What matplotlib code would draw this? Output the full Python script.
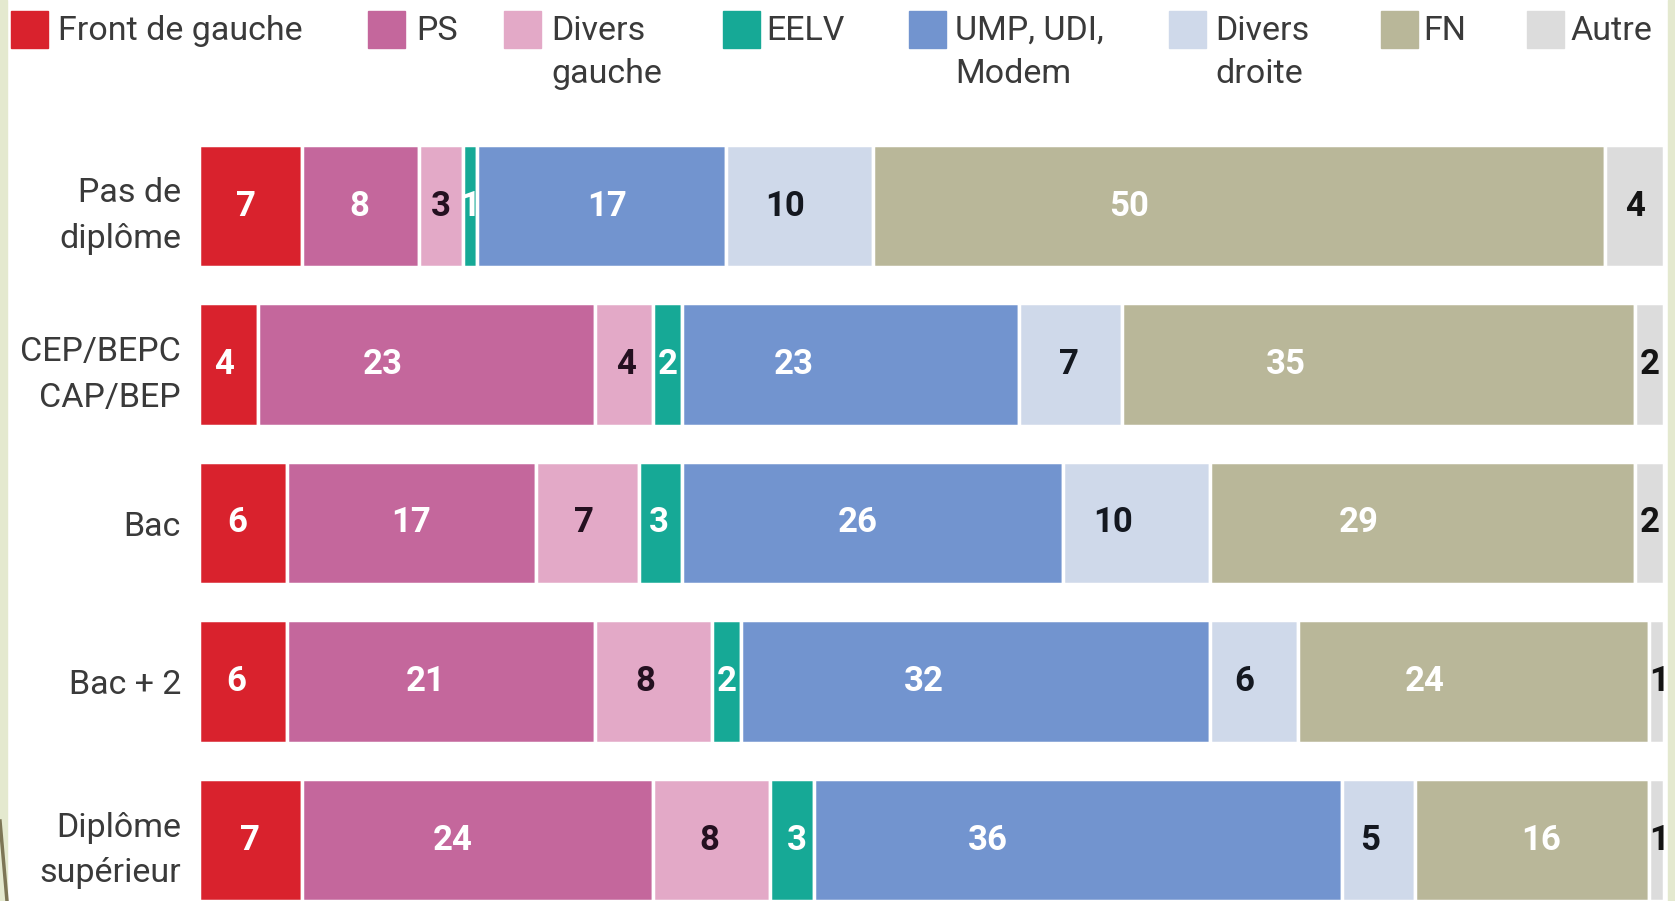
import matplotlib

matplotlib.use("Agg")
import matplotlib.pyplot as plt
from matplotlib.patches import Rectangle

# education levels (top to bottom)
categories = ["Pas de\ndiplôme", "CEP/BEPC\nCAP/BEP", "Bac", "Bac + 2", "Diplôme\nsupérieur"]

parties = ["Front de gauche", "PS", "Divers\ngauche", "EELV", "UMP, UDI,\nModem",
           "Divers\ndroite", "FN", "Autre"]
colors = ["#d9222d", "#c4679c", "#e3a9c7", "#16a996", "#7294cf", "#cfd9ea", "#b9b799", "#dcdcdc"]
label_colors = ["white", "white", "#241020", "white", "white", "#141820", "white", "#141414"]

front_gauche = [7, 4, 6, 6, 7]
ps = [8, 23, 17, 21, 24]
divers_gauche = [3, 4, 7, 8, 8]
eelv = [1, 2, 3, 2, 3]
ump_udi = [17, 23, 26, 32, 36]
divers_droite = [10, 7, 10, 6, 5]
fn = [50, 35, 29, 24, 16]
autre = [4, 2, 2, 1, 1]

series = [front_gauche, ps, divers_gauche, eelv, ump_udi, divers_droite, fn, autre]

# where each value label sits inside its segment (fraction of the segment width), per row
label_frac = [
    [0.46, 0.49, 0.50, 0.50, 0.52, 0.40, 0.35, 0.51],
    [0.43, 0.37, 0.54, 0.50, 0.33, 0.48, 0.32, 0.50],
    [0.44, 0.50, 0.47, 0.46, 0.46, 0.34, 0.35, 0.50],
    [0.42, 0.45, 0.43, 0.50, 0.39, 0.39, 0.36, 0.70],
    [0.50, 0.43, 0.48, 0.60, 0.33, 0.39, 0.54, 0.70],
]

W, H = 1675, 901
fig = plt.figure(figsize=(W / 100, H / 100), dpi=100)
fig.patch.set_facecolor("white")

# theme border strips
fig.add_artist(Rectangle((0, 0), 7 / W, 1, transform=fig.transFigure, color="#e4e9cf", zorder=0))
fig.add_artist(Rectangle((1 - 7 / W, 0), 7 / W, 1, transform=fig.transFigure, color="#e4e9cf", zorder=0))
fig.add_artist(plt.Line2D([0, 7 / W], [80 / H, 0], transform=fig.transFigure, color="#7d7656", lw=2.5))

x0, x1 = 199, 1664
ax = fig.add_axes([x0 / W, 0, (x1 - x0) / W, 1])
step = 158.5
ax.set_xlim(0, 100)
ax.set_ylim((H - 206) / step, -206 / step)

ypos = list(range(len(categories)))
left = [0.0] * len(categories)
for j, (vals, col, tcol) in enumerate(zip(series, colors, label_colors)):
    ax.barh(ypos, vals, left=left, height=0.77, color=col, edgecolor="white", linewidth=2.5)
    for i, v in enumerate(vals):
        ax.text(left[i] + v * label_frac[i][j], i, str(v), ha="center", va="center", color=tcol,
                fontsize=25, fontweight="bold", family="Roboto")
    left = [l + v for l, v in zip(left, vals)]

ax.set_yticks(ypos)
ax.set_yticklabels(categories, fontsize=24.5, family="Roboto", color="#3a3a3a", linespacing=1.55)
ax.tick_params(axis="y", length=0, pad=13)
ax.set_xticks([])
for s in ax.spines.values():
    s.set_visible(False)
ax.set_facecolor("none")

# legend
square_x = [11, 368, 504, 723, 909, 1169, 1381, 1527]
text_x = [58, 416, 551, 766, 955, 1215, 1423, 1570]
for name, col, sx, tx in zip(parties, colors, square_x, text_x):
    fig.add_artist(Rectangle((sx / W, 1 - 48 / H), 37 / W, 37 / H, transform=fig.transFigure,
                             color=col))
    fig.text(tx / W, 1 - 15 / H, name, ha="left", va="top", fontsize=24.5, family="Roboto",
             color="#3a3a3a", linespacing=1.45)

fig.savefig("out.png", dpi=100)
